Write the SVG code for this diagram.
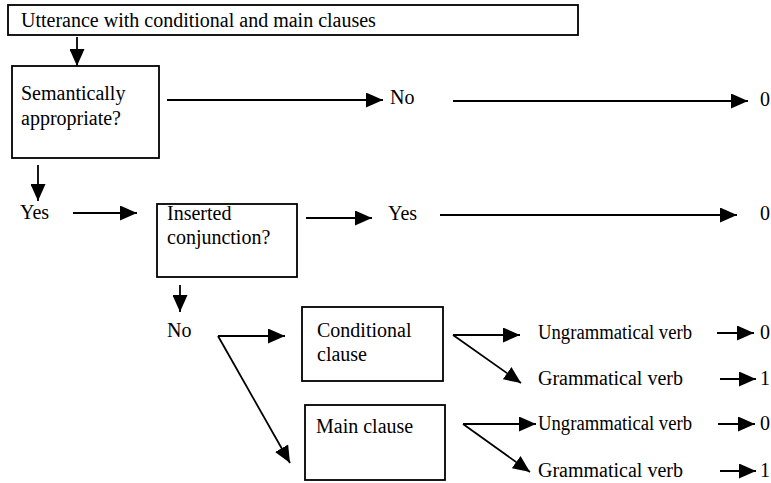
<svg xmlns="http://www.w3.org/2000/svg" width="771" height="483" viewBox="0 0 771 483">
<defs>
<marker id="ah" markerUnits="userSpaceOnUse" markerWidth="17" markerHeight="15" refX="17" refY="7.5" orient="auto">
<path d="M0,0 L17,7.5 L0,15 z" fill="#000"/>
</marker>
</defs>
<style>
.box{fill:#fff;stroke:#000;stroke-width:1.8}
.t{font-family:"Liberation Serif","Times New Roman",serif;font-size:20px;fill:#000}
.c{fill:none;stroke:#000;stroke-width:1.8}
.a{marker-end:url(#ah)}
</style>
<rect width="771" height="483" fill="#fff"/>
<g id="n-utterance"><rect class="box" x="8" y="5" width="570" height="30"/><text class="t" x="21" y="27">Utterance with conditional and main clauses</text></g>
<g id="n-semantic"><rect class="box" x="12" y="66" width="147" height="92"/><text class="t" x="21" y="100">Semantically</text><text class="t" x="21" y="125">appropriate?</text></g>
<g id="n-no1"><text class="t" x="390" y="104">No</text></g>
<g id="n-zero1"><text class="t" x="760" y="106">0</text></g>
<g id="n-yes1"><text class="t" x="20" y="219">Yes</text></g>
<g id="n-inserted"><rect class="box" x="157" y="204" width="140" height="73"/><text class="t" x="167" y="220">Inserted</text><text class="t" x="167" y="244">conjunction?</text></g>
<g id="n-yes2"><text class="t" x="388" y="220">Yes</text></g>
<g id="n-zero2"><text class="t" x="760" y="220">0</text></g>
<g id="n-no2"><text class="t" x="167" y="337">No</text></g>
<g id="n-conditional"><rect class="box" x="302" y="307" width="141" height="74"/><text class="t" x="317" y="337">Conditional</text><text class="t" x="317" y="361">clause</text></g>
<g id="n-main"><rect class="box" x="305" y="405" width="140" height="75"/><text class="t" x="316" y="433">Main clause</text></g>
<g id="n-ungram1"><text class="t" x="538" y="339" textLength="154" lengthAdjust="spacingAndGlyphs">Ungrammatical verb</text></g>
<g id="n-gram1"><text class="t" x="538" y="385">Grammatical verb</text></g>
<g id="n-ungram2"><text class="t" x="538" y="430" textLength="154" lengthAdjust="spacingAndGlyphs">Ungrammatical verb</text></g>
<g id="n-gram2"><text class="t" x="538" y="477">Grammatical verb</text></g>
<g id="n-r1"><text class="t" x="760" y="339">0</text></g>
<g id="n-r2"><text class="t" x="760" y="385">1</text></g>
<g id="n-r3"><text class="t" x="760" y="430">0</text></g>
<g id="n-r4"><text class="t" x="760" y="477">1</text></g>
<g id="connectors">
<line class="c a" x1="77" y1="37" x2="77" y2="66"/>
<line class="c a" x1="167" y1="100" x2="383" y2="100"/>
<line class="c a" x1="453" y1="101" x2="748" y2="101"/>
<line class="c a" x1="38" y1="165" x2="38" y2="201"/>
<line class="c a" x1="73" y1="213" x2="137" y2="213"/>
<line class="c a" x1="306" y1="218" x2="372" y2="218"/>
<line class="c a" x1="440" y1="215" x2="737" y2="215"/>
<line class="c a" x1="180" y1="285" x2="180" y2="312"/>
<line class="c a" x1="218" y1="336" x2="285" y2="336"/>
<line class="c a" x1="218" y1="336" x2="290" y2="463"/>
<line class="c a" x1="453" y1="335" x2="520" y2="335"/>
<line class="c a" x1="453" y1="335" x2="521" y2="383"/>
<line class="c a" x1="463" y1="424" x2="536" y2="424"/>
<line class="c a" x1="463" y1="424" x2="530" y2="472"/>
<line class="c a" x1="717" y1="333" x2="754" y2="333"/>
<line class="c a" x1="720" y1="379" x2="756" y2="379"/>
<line class="c a" x1="718" y1="424" x2="755" y2="424"/>
<line class="c a" x1="720" y1="471" x2="756" y2="471"/>
</g>
</svg>
